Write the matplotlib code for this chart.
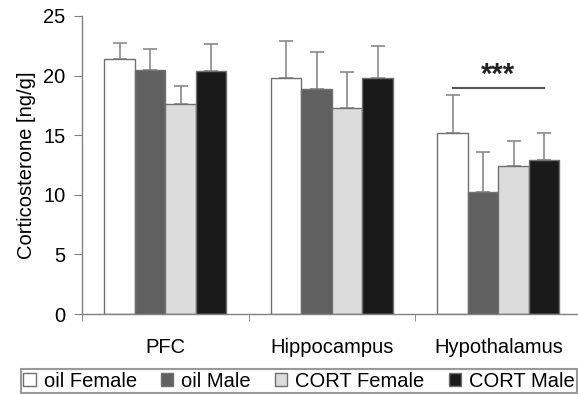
import matplotlib
matplotlib.use("Agg")
import matplotlib.pyplot as plt
import numpy as np
from matplotlib.patches import Patch

plt.rcParams['font.family'] = ['Liberation Sans', 'DejaVu Sans']

regions = ["PFC", "Hippocampus", "Hypothalamus"]
groups = ["oil Female", "oil Male", "CORT Female", "CORT Male"]
colors = ["#ffffff", "#606060", "#dcdcdc", "#1a1a1a"]

oil_female = [21.4, 19.8, 15.2]
oil_male = [20.5, 18.9, 10.2]
cort_female = [17.6, 17.3, 12.4]
cort_male = [20.4, 19.8, 12.9]
means = [oil_female, oil_male, cort_female, cort_male]

oil_female_sem = [1.3, 3.1, 3.2]
oil_male_sem = [1.7, 3.05, 3.4]
cort_female_sem = [1.5, 3.0, 2.15]
cort_male_sem = [2.25, 2.7, 2.3]
sems = [oil_female_sem, oil_male_sem, cort_female_sem, cort_male_sem]

yticks = [0, 5, 10, 15, 20, 25]
sig_region = 2
sig_level = 19.0
sig_label = "***"

fig = plt.figure(figsize=(5.78, 3.94), dpi=100)
ax = fig.add_axes([82/578, 1-314/394, 498/578, (314-16)/394])

x = np.arange(len(regions))
w = 0.183
edge = "#707070"
for i, (m, s, c) in enumerate(zip(means, sems, colors)):
    xi = x + (i - 1.5) * w
    ax.bar(xi, m, width=w, color=c, edgecolor=edge, linewidth=1.0, zorder=2)
    ax.errorbar(xi, m, yerr=[np.zeros(len(s)), s], fmt='none', ecolor="#8a8a8a",
                elinewidth=1.2, capsize=5, capthick=1.2, zorder=1)

# significance line
x0 = x[sig_region] + (0 - 1.5) * w
x1 = x[sig_region] + (3 - 1.5) * w
ax.plot([x0, x1], [sig_level, sig_level], color="#555555", lw=1.5, zorder=3)
ax.text((x0 + x1) / 2, sig_level + 0.35, sig_label, ha='center', va='baseline',
        fontsize=21, fontweight='bold', color="#222222")

ax.set_xlim(-0.5, 2.49)
ax.set_ylim(0, 25)
ax.set_yticks(yticks)
ax.set_xticks(x)
ax.set_xticklabels(regions, fontsize=14.5)
ax.set_xticks([-0.5, 0.5, 1.5], minor=True)
ax.tick_params(axis='x', which='major', length=0, pad=17)
ax.tick_params(axis='x', which='minor', length=5, color="#808080", direction='out')
ax.tick_params(axis='y', labelsize=14.5, length=6, color="#808080", pad=6)
ax.set_ylabel("Corticosterone [ng/g]", fontsize=14.5, labelpad=5)

for sp in ['top', 'right']:
    ax.spines[sp].set_visible(False)
for sp in ['left', 'bottom']:
    ax.spines[sp].set_color("#808080")
    ax.spines[sp].set_linewidth(1.0)

handles = [Patch(facecolor=c, edgecolor="#707070", linewidth=1.0) for c in colors]
leg = fig.legend(handles, groups, loc='lower left',
                 bbox_to_anchor=(21/578, 1/394, 556/578, 26/394),
                 mode='expand', ncol=4, fontsize=14.5, frameon=True, fancybox=False,
                 edgecolor="#808080", handlelength=0.6, handleheight=0.6,
                 handletextpad=0.4, borderaxespad=0, borderpad=0.12,
                 columnspacing=1.0)
leg.get_frame().set_linewidth(1.5)

fig.savefig("out.png", dpi=100)
